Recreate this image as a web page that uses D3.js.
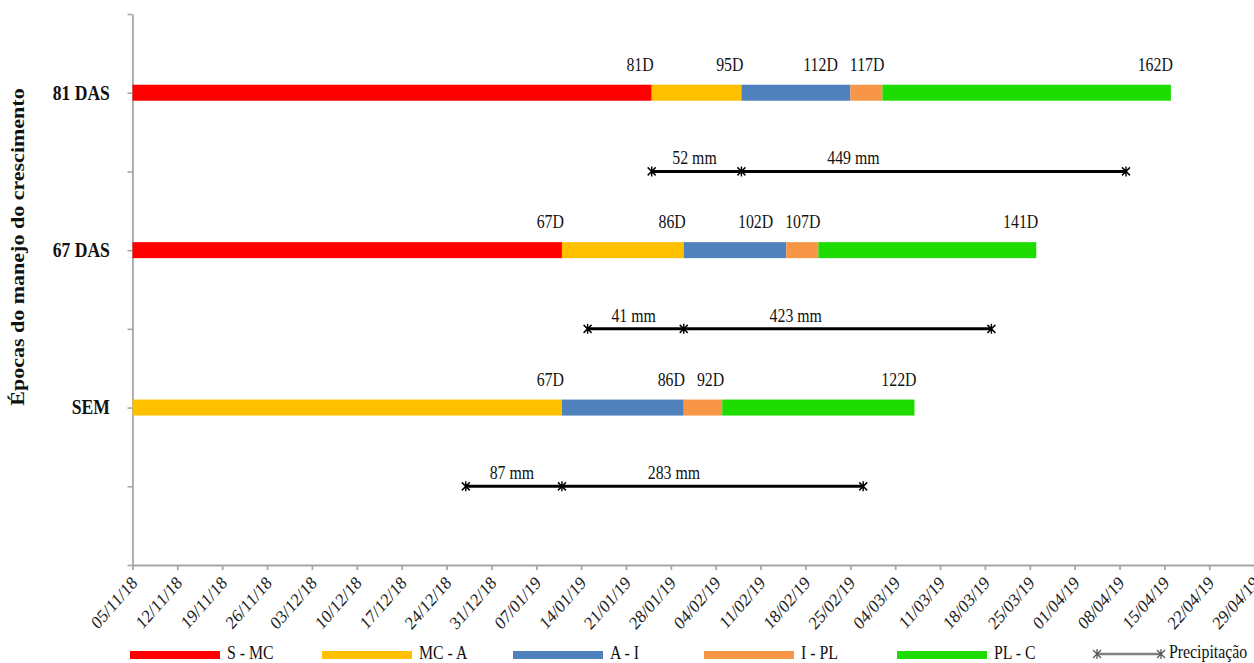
<!DOCTYPE html>
<html>
<head>
<meta charset="utf-8">
<script src="https://cdn.jsdelivr.net/npm/d3@7"></script>
<style>
  html, body { margin: 0; padding: 0; background: #fff; }
  svg { display: block; font-family: "Liberation Serif", "Times New Roman", serif; }
</style>
</head>
<body>
<svg id="chart" width="1254" height="663"></svg>
<script>
// ---------------- DATA ----------------
const startDate = "2018-11-05";
const endDate = "2019-04-29";
const categories = ["SEM", "67 DAS", "81 DAS"];
const phases = ["S - MC", "MC - A", "A - I", "I - PL", "PL - C"];
const phaseColors = ["#FF0000", "#FFC000", "#4F81BD", "#F79646", "#1EDC00"];
// end of each phase, in days after 05/11/18
const phaseEndsSEM = [0, 67, 86, 92, 122];
const phaseEnds67 = [67, 86, 102, 107, 141];
const phaseEnds81 = [81, 95, 112, 117, 162];
// precipitation intervals (days) and totals (mm)
const precipDaysSEM = [52, 67, 114];
const precipDays67 = [71, 86, 134];
const precipDays81 = [81, 95, 155];
const precipMmSEM = [87, 283];
const precipMm67 = [41, 423];
const precipMm81 = [52, 449];
const yTitle = "Épocas do manejo do crescimento";
const precipLegend = "Precipitação";

const phaseEnds = [phaseEndsSEM, phaseEnds67, phaseEnds81];
const precipDays = [precipDaysSEM, precipDays67, precipDays81];
const precipMm = [precipMmSEM, precipMm67, precipMm81];

// ---------------- LAYOUT ----------------
const SX = 0.88; // horizontal compression of the original picture
const X = v => v / SX;
const svg = d3.select("#chart");
const root = svg.append("g").attr("transform", `scale(${SX},1)`);

const parse = d3.utcParse("%Y-%m-%d");
const d0 = parse(startDate), d1 = parse(endDate);
const dayDate = d => d3.utcDay.offset(d0, d);

const x = d3.scaleUtc().domain([d0, d1]).range([X(132.5), X(1254.2)]);
const y = d3.scaleLinear().domain([0, 7]).range([565, 14]);
const axisColor = "#A6A6A6";

// X axis
const xAxis = d3.axisBottom(x)
  .tickValues(d3.utcMonday.range(d0, d3.utcDay.offset(d1, 1)))
  .tickFormat(d3.utcFormat("%d/%m/%y"))
  .tickSize(5).tickSizeOuter(0);
const gx = root.append("g").attr("transform", `translate(0,${y(0)})`).call(xAxis);
gx.select(".domain").attr("stroke", axisColor).attr("stroke-width", 2);
gx.selectAll(".tick line").attr("stroke", axisColor).attr("stroke-width", 2);
gx.selectAll(".tick text")
  .attr("font-size", 18.5).attr("fill", "#222")
  .attr("font-family", "Liberation Serif, serif")
  .attr("text-anchor", "end")
  .attr("dy", null).attr("y", null)
  .attr("transform", "translate(6,19) rotate(-45)");

// Y axis
const yAxis = d3.axisLeft(y)
  .tickValues(d3.range(0, 8))
  .tickFormat(v => (v % 2 === 0 && v > 0) ? categories[v / 2 - 1] : "")
  .tickSize(X(5)).tickSizeOuter(0).tickPadding(20);
const gy = root.append("g").attr("transform", `translate(${x(d0)},0)`).call(yAxis);
gy.select(".domain").attr("stroke", axisColor).attr("stroke-width", 2);
gy.selectAll(".tick line").attr("stroke", axisColor).attr("stroke-width", 1.6);
gy.selectAll(".tick text")
  .attr("font-size", 20).attr("font-weight", "bold").attr("fill", "#111")
  .attr("font-family", "Liberation Serif, serif");

// Y title
root.append("text")
  .attr("transform", `translate(${X(24)},247) rotate(-90)`)
  .attr("text-anchor", "middle")
  .attr("font-size", 22).attr("font-weight", "bold").attr("fill", "#111")
  .text(yTitle);

// ---------------- BARS ----------------
const barH = 16;
const rows = categories.map((c, i) => ({ cat: c, level: (i + 1) * 2, ends: phaseEnds[i] }));

rows.forEach(r => {
  const segs = r.ends.map((e, k) => ({ start: k === 0 ? 0 : r.ends[k - 1], end: e, k }))
    .filter(s => s.end > s.start);
  const g = root.append("g");
  g.selectAll("rect").data(segs).join("rect")
    .attr("x", s => x(dayDate(s.start)))
    .attr("width", s => x(dayDate(s.end)) - x(dayDate(s.start)))
    .attr("y", y(r.level) - barH / 2)
    .attr("height", barH)
    .attr("fill", s => phaseColors[s.k]);
  const texts = g.selectAll("text").data(segs).join("text")
    .attr("x", s => x(dayDate(s.end)) + X(2))
    .attr("y", y(r.level) - 22)
    .attr("text-anchor", "end")
    .attr("font-size", 18).attr("fill", "#111")
    .text(s => s.end + "D");
  // resolve overlaps: shift labels left of their right neighbour
  const nodes = texts.nodes();
  for (let k = nodes.length - 2; k >= 0; k--) {
    const cur = nodes[k], nxt = nodes[k + 1];
    const nxtLeft = +nxt.getAttribute("x") - nxt.getComputedTextLength();
    const curRight = +cur.getAttribute("x");
    const gap = X(12);
    if (curRight > nxtLeft - gap) cur.setAttribute("x", nxtLeft - gap);
  }
});

// ---------------- PRECIPITATION ----------------
function starPath(cx, cy) {
  const h = 5, w = X(4), v = 4;
  return `M${cx},${cy - h}L${cx},${cy + h}M${cx - w},${cy - v}L${cx + w},${cy + v}M${cx - w},${cy + v}L${cx + w},${cy - v}`;
}
rows.forEach((r, i) => {
  const days = precipDays[i];
  const yy = y(r.level - 1);
  const g = root.append("g");
  g.append("line")
    .attr("x1", x(dayDate(days[0]))).attr("x2", x(dayDate(days[days.length - 1])))
    .attr("y1", yy).attr("y2", yy)
    .attr("stroke", "#000").attr("stroke-width", 3);
  g.selectAll("path").data(days).join("path")
    .attr("d", d => starPath(x(dayDate(d)), yy))
    .attr("stroke", "#000").attr("stroke-width", 1.6).attr("fill", "none");
  const labels = precipMm[i].map((mm, k) => ({ mm, a: days[k], b: days[k + 1], k }));
  g.selectAll("text").data(labels).join("text")
    .attr("x", l => {
      const xa = x(dayDate(l.a)), xb = x(dayDate(l.b));
      return l.k === 0 ? (xa + xb) / 2 - X(2) : xa + X(112);
    })
    .attr("y", yy - 7)
    .attr("text-anchor", "middle")
    .attr("font-size", 18).attr("fill", "#111")
    .text(l => l.mm + " mm");
});

// ---------------- LEGEND ----------------
const legendY = 655;
const legendBase = 659;
const legendStarts = [130, 322, 513, 704, 897];
const leg = root.append("g");
phases.forEach((p, i) => {
  leg.append("rect")
    .attr("x", X(legendStarts[i])).attr("y", legendY - 4)
    .attr("width", X(90)).attr("height", 8)
    .attr("fill", phaseColors[i]);
  leg.append("text")
    .attr("x", X(legendStarts[i] + 97)).attr("y", legendBase)
    .attr("font-size", 18).attr("fill", "#111")
    .text(p);
});
const plx1 = X(1097), plx2 = X(1161), ply = 654;
leg.append("line").attr("x1", plx1).attr("x2", plx2).attr("y1", ply).attr("y2", ply)
  .attr("stroke", "#808080").attr("stroke-width", 2.5);
[plx1, plx2].forEach(px => leg.append("path").attr("d", starPath(px, ply))
  .attr("stroke", "#555").attr("stroke-width", 1.4).attr("fill", "none"));
leg.append("text").attr("x", X(1169)).attr("y", legendBase - 1)
  .attr("font-size", 18).attr("fill", "#111")
  .text(precipLegend);
</script>
</body>
</html>
